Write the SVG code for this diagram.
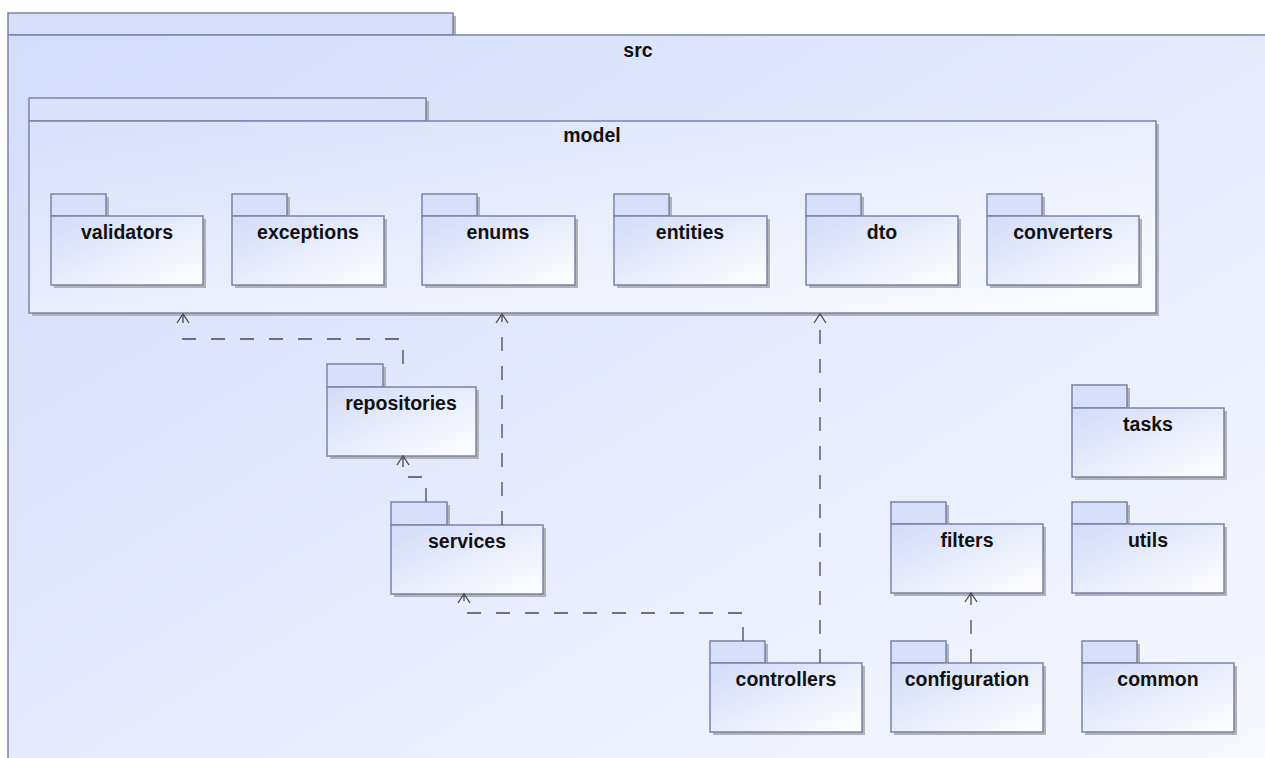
<svg xmlns="http://www.w3.org/2000/svg" width="1265" height="758" viewBox="0 0 1265 758">
  <defs>
    <linearGradient id="srcFill" x1="0" y1="0" x2="1" y2="1">
      <stop offset="0" stop-color="#d3dcfb"/>
      <stop offset="1" stop-color="#f7f8ff"/>
    </linearGradient>
    <linearGradient id="modelFill" x1="0" y1="0" x2="1" y2="1">
      <stop offset="0" stop-color="#d8e0fb"/>
      <stop offset="1" stop-color="#fbfcff"/>
    </linearGradient>
    <linearGradient id="pkgFill" x1="0" y1="0" x2="1" y2="1">
      <stop offset="0" stop-color="#d2dbf8"/>
      <stop offset="1" stop-color="#ffffff"/>
    </linearGradient>
    <marker id="open" markerWidth="14" markerHeight="14" refX="10" refY="7" orient="auto" markerUnits="userSpaceOnUse">
      <path d="M1,1 L10,7 L1,13" fill="none" stroke="#4a4a4a" stroke-width="1.3"/>
    </marker>
  </defs>
  <style>
    .shadow { fill: #b2b2b2; }
    .tab { fill: #d7dffb; stroke: #7a83ab; stroke-width: 1.5; }
    .body { fill: url(#pkgFill); stroke: #7a83ab; stroke-width: 1.5; }
    .label { font-family: "Liberation Sans", Arial, sans-serif; font-weight: bold; font-size: 19.5px; fill: #111; text-anchor: middle; }
    .dep { fill: none; stroke: #4a4a4a; stroke-width: 1.3; stroke-dasharray: 14 15; marker-end: url(#open); }
  </style>

  <rect width="1265" height="758" fill="#ffffff"/>

  <!-- src package -->
  <g id="src">
    <rect x="11" y="16" width="445" height="22" class="shadow"/>
    <rect x="8" y="13" width="445" height="22" class="tab" fill="#d7dffb"/>
    <rect x="8" y="35" width="1262" height="740" class="body" style="fill:url(#srcFill)"/>
    <text x="638" y="57" class="label">src</text>
  </g>

  <!-- model package -->
  <g id="model">
    <rect x="32" y="101" width="397" height="23" class="shadow"/>
    <rect x="32" y="124" width="1127" height="192" class="shadow"/>
    <rect x="29" y="98" width="397" height="23" class="tab" style="fill:#dae1fb"/>
    <rect x="29" y="121" width="1127" height="192" class="body" style="fill:url(#modelFill)"/>
    <text x="592" y="142" class="label">model</text>
  </g>

  <g id="validators">
    <rect x="54" y="197" width="55" height="22" class="shadow"/>
    <rect x="54" y="219" width="152" height="69" class="shadow"/>
    <rect x="51" y="194" width="55" height="22" class="tab"/>
    <rect x="51" y="216" width="152" height="69" class="body"/>
    <text x="127" y="239" class="label">validators</text>
  </g>

  <g id="exceptions">
    <rect x="235" y="197" width="55" height="22" class="shadow"/>
    <rect x="235" y="219" width="152" height="69" class="shadow"/>
    <rect x="232" y="194" width="55" height="22" class="tab"/>
    <rect x="232" y="216" width="152" height="69" class="body"/>
    <text x="308" y="239" class="label">exceptions</text>
  </g>

  <g id="enums">
    <rect x="425" y="197" width="55" height="22" class="shadow"/>
    <rect x="425" y="219" width="153" height="69" class="shadow"/>
    <rect x="422" y="194" width="55" height="22" class="tab"/>
    <rect x="422" y="216" width="153" height="69" class="body"/>
    <text x="498" y="239" class="label">enums</text>
  </g>

  <g id="entities">
    <rect x="617" y="197" width="55" height="22" class="shadow"/>
    <rect x="617" y="219" width="153" height="69" class="shadow"/>
    <rect x="614" y="194" width="55" height="22" class="tab"/>
    <rect x="614" y="216" width="153" height="69" class="body"/>
    <text x="690" y="239" class="label">entities</text>
  </g>

  <g id="dto">
    <rect x="809" y="197" width="55" height="22" class="shadow"/>
    <rect x="809" y="219" width="152" height="69" class="shadow"/>
    <rect x="806" y="194" width="55" height="22" class="tab"/>
    <rect x="806" y="216" width="152" height="69" class="body"/>
    <text x="882" y="239" class="label">dto</text>
  </g>

  <g id="converters">
    <rect x="990" y="197" width="55" height="22" class="shadow"/>
    <rect x="990" y="219" width="152" height="69" class="shadow"/>
    <rect x="987" y="194" width="55" height="22" class="tab"/>
    <rect x="987" y="216" width="152" height="69" class="body"/>
    <text x="1063" y="239" class="label">converters</text>
  </g>

  <g id="repositories">
    <rect x="330" y="367" width="56" height="23" class="shadow"/>
    <rect x="330" y="390" width="149" height="69" class="shadow"/>
    <rect x="327" y="364" width="56" height="23" class="tab"/>
    <rect x="327" y="387" width="149" height="69" class="body"/>
    <text x="401" y="410" class="label">repositories</text>
  </g>

  <g id="services">
    <rect x="394" y="505" width="56" height="23" class="shadow"/>
    <rect x="394" y="528" width="152" height="69" class="shadow"/>
    <rect x="391" y="502" width="56" height="23" class="tab"/>
    <rect x="391" y="525" width="152" height="69" class="body"/>
    <text x="467" y="548" class="label">services</text>
  </g>

  <g id="controllers">
    <rect x="713" y="644" width="55" height="22" class="shadow"/>
    <rect x="713" y="666" width="152" height="69" class="shadow"/>
    <rect x="710" y="641" width="55" height="22" class="tab"/>
    <rect x="710" y="663" width="152" height="69" class="body"/>
    <text x="786" y="686" class="label">controllers</text>
  </g>

  <g id="configuration">
    <rect x="894" y="644" width="55" height="22" class="shadow"/>
    <rect x="894" y="666" width="152" height="69" class="shadow"/>
    <rect x="891" y="641" width="55" height="22" class="tab"/>
    <rect x="891" y="663" width="152" height="69" class="body"/>
    <text x="967" y="686" class="label">configuration</text>
  </g>

  <g id="filters">
    <rect x="894" y="505" width="55" height="22" class="shadow"/>
    <rect x="894" y="527" width="152" height="69" class="shadow"/>
    <rect x="891" y="502" width="55" height="22" class="tab"/>
    <rect x="891" y="524" width="152" height="69" class="body"/>
    <text x="967" y="547" class="label">filters</text>
  </g>

  <g id="tasks">
    <rect x="1075" y="388" width="55" height="23" class="shadow"/>
    <rect x="1075" y="411" width="152" height="69" class="shadow"/>
    <rect x="1072" y="385" width="55" height="23" class="tab"/>
    <rect x="1072" y="408" width="152" height="69" class="body"/>
    <text x="1148" y="431" class="label">tasks</text>
  </g>

  <g id="utils">
    <rect x="1075" y="505" width="55" height="22" class="shadow"/>
    <rect x="1075" y="527" width="152" height="69" class="shadow"/>
    <rect x="1072" y="502" width="55" height="22" class="tab"/>
    <rect x="1072" y="524" width="152" height="69" class="body"/>
    <text x="1148" y="547" class="label">utils</text>
  </g>

  <g id="common">
    <rect x="1085" y="644" width="55" height="22" class="shadow"/>
    <rect x="1085" y="666" width="152" height="69" class="shadow"/>
    <rect x="1082" y="641" width="55" height="22" class="tab"/>
    <rect x="1082" y="663" width="152" height="69" class="body"/>
    <text x="1158" y="686" class="label">common</text>
  </g>

  <!-- dependency connectors -->
  <g id="connectors">
    <path class="dep" d="M403,364 V339 H183 V314"/>
    <path class="dep" d="M426,502 V477 H403 V456"/>
    <path class="dep" d="M502,525 V314"/>
    <path class="dep" d="M743,641 V613 H464 V594"/>
    <path class="dep" d="M820,663 V314"/>
    <path class="dep" d="M971,663 V593"/>
  </g>
</svg>
